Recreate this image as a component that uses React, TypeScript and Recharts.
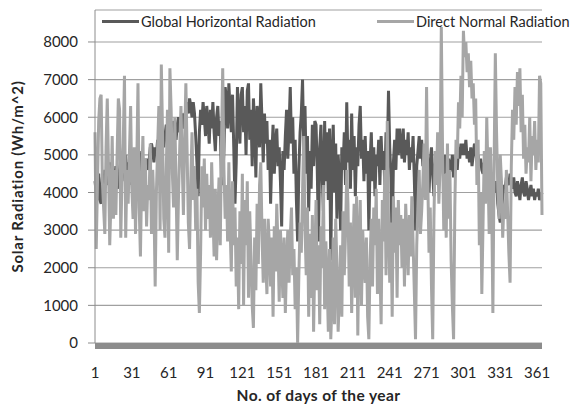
import { LineChart, Line, XAxis, YAxis, CartesianGrid, Label } from 'recharts';

// daily solar radiation, Wh/m^2 (days 1..365)
const globalHorizontal = [
  4300, 4000, 3800, 4500, 3800, 3700, 4400, 4100, 4600, 4200,
  4500, 4200, 4800, 4400, 4000, 4600, 4300, 4700, 4400, 4100,
  4600, 4900, 4300, 4700, 4500, 5000, 4400, 4800, 4200, 4600,
  5000, 4700, 4300, 4900, 4600, 4500, 5100, 4800, 4400, 4700,
  4800, 4700, 4900, 4600, 4800, 5200, 5300, 5100, 4800, 5200,
  5000, 5400, 5100, 4900, 5300, 5600, 5200, 5500, 5800, 5700,
  5600, 5300, 5800, 5500, 5900, 5700, 5400, 5800, 6000, 5600,
  5900, 6100, 5700, 6000, 6200, 6400, 6100, 6500, 6300, 6000,
  6400, 6100, 5500, 4800, 3900, 5600, 6200, 5800, 6400, 6000,
  5500, 6300, 5900, 5300, 6200, 5700, 6400, 5600, 5100, 6000,
  6300, 5500, 5900, 4200, 4400, 5100, 6800, 6500, 5700, 6900,
  6200, 5600, 6600, 5200, 3700, 4800, 6800, 6000, 5300, 6600,
  6800, 5600, 6300, 5000, 6700, 6900, 5400, 6200, 4700, 6500,
  5800, 4400, 6300, 6000, 5200, 6900, 5900, 4800, 6100, 5300,
  5900, 4600, 5400, 3700, 5000, 5800, 4500, 5300, 5700, 4700,
  5200, 4300, 3100, 5100, 4600, 5500, 6200, 4900, 5700, 6800,
  5300, 6000, 4500, 5400, 3800, 2700, 4600, 5600, 6100, 7000,
  5200, 6300, 4500, 5500, 3500, 5100, 4100, 5800, 4700, 5900,
  5800, 4600, 2700, 5200, 5800, 4400, 3500, 5900, 4300, 5600,
  3800, 5700, 2200, 4900, 5800, 4000, 5300, 3300, 5000, 4400,
  3000, 5200, 4600, 5600, 4200, 6400, 4800, 5400, 4100, 6100,
  4600, 5500, 3900, 5200, 4700, 5800, 6300, 4900, 5400, 4300,
  5500, 4500, 5100, 3000, 4800, 5600, 4300, 5200, 3900, 5000,
  4700, 5400, 4200, 5500, 4600, 5100, 4200, 5600, 4900, 6700,
  5200, 4400, 2600, 4800, 5400, 4600, 5700, 5000, 5700, 5300,
  4900, 5700, 4800, 5400, 5000, 5600, 4600, 5200, 4800, 5500,
  4400, 3000, 4700, 5100, 5500, 4900, 5400, 4700, 5200, 4800,
  5000, 4500, 4000, 4800, 5200, 4500, 3900, 4700, 5100, 4400,
  4800, 5200, 4600, 4900, 4300, 5000, 4700, 4500, 4900, 4600,
  4600, 5000, 4400, 4700, 5000, 4600, 5200, 4900, 5300, 5000,
  5300, 5000, 5400, 4900, 5100, 4800, 5200, 4700, 5000, 5300,
  5100, 4800, 5000, 4700, 4900, 4600, 4500, 4800, 4600, 4400,
  4600, 4500, 4300, 4400, 4200, 4100, 4000, 4300, 3700, 3400,
  3200, 3500, 3900, 4200, 4100, 4400, 4300, 4200, 4500, 4300,
  4100, 4400, 4000, 3900, 4300, 4100, 3800, 4200, 4400, 4000,
  3900, 4300, 4100, 3800, 4000, 4200, 3900, 4100, 3800, 4000,
  3900, 4100, 3800, 3900, 4000,
];

const directNormal = [
  5600, 2500, 4200, 5900, 6500, 6600, 4300, 3600, 2900, 5200,
  6500, 4700, 2600, 3800, 5500, 3300, 4600, 3400, 5000, 6500,
  6200, 2800, 4400, 5300, 7100, 2800, 4600, 3700, 5000, 6300,
  4100, 3300, 5200, 2900, 4700, 6900, 3600, 2300, 4400, 5500,
  3500, 4900, 3100, 4200, 3800, 5300, 2900, 4600, 3700, 1500,
  4000, 5200, 6300, 3000, 7400, 5600, 3300, 2800, 4500, 6200,
  2400, 7300, 6200, 4500, 3600, 6000, 4200, 2200, 3900, 5200,
  6300, 4800, 3400, 5400, 6900, 5100, 3200, 2500, 4300, 5600,
  3800, 4700, 3000, 4100, 1600, 800, 2400, 4700, 3600, 4900,
  3000, 4500, 3300, 4200, 2800, 4800, 3500, 2300, 4100, 2200,
  3400, 4400, 2600, 5300, 7300, 4600, 3300, 4200, 2700, 4800,
  3100, 1900, 4300, 2600, 3600, 1500, 2800, 900, 3500, 2100,
  4500, 1000, 3800, 2600, 4300, 1200, 3500, 2300, 1000, 400,
  2800, 1400, 3700, 2100, 4200, 4800, 2900, 1600, 3300, 2200,
  1300, 3300, 2600, 1500, 2800, 700, 3100, 1900, 3700, 2600,
  1100, 3000, 2200, 1200, 2800, 800, 2100, 3000, 1600, 2800,
  3600, 1800, 2500, 900, 2000, 0, 1800, 3200, 2400, 4000,
  5500, 3100, 1800, 3600, 700, 2900, 1200, 3400, 300, 2200,
  3800, 1400, 2600, 500, 3100, 2000, 4200, 900, 2700, 1700,
  300, 2500, 100, 1100, 2800, 500, 3300, 2000, 300, 1300,
  2600, 700, 3500, 1800, 2900, 4600, 3700, 1500, 3200, 800,
  2400, 3700, 1200, 3900, 200, 2700, 3800, 1000, 3000, 2200,
  1600, 2800, 700, 100, 2200, 3300, 1500, 3600, 2600, 4100,
  1300, 3300, 2100, 500, 3800, 2700, 4600, 1800, 5900, 3200,
  1600, 3200, 700, 3900, 2400, 3600, 1200, 3800, 2600, 3400,
  2000, 3300, 1500, 3700, 2800, 1800, 3400, 2300, 3900, 2700,
  1400, 100, 2600, 3700, 4600, 2900, 3500, 4300, 5300, 3800,
  6800, 4300, 2400, 3600, 1500, 100, 3300, 5100, 4200, 5600,
  3700, 4700, 8400, 5200, 3000, 4500, 2800, 5300, 3300, 4600,
  2200, 1000, 100, 3600, 5400, 4900, 6400, 5700, 7100, 6000,
  8300, 7600, 8000, 7200, 7700, 6800, 7500, 6500, 6900, 5800,
  6500, 4200, 5400, 2600, 4000, 1300, 3200, 5100, 3700, 6000,
  4600, 2900, 5200, 3800, 800, 4800, 7700, 5600, 4100, 3300,
  5000, 4300, 2800, 3700, 3300, 4600, 3500, 2400, 1600, 4700,
  6200, 5400, 6800, 5800, 7200, 6300, 7300, 5600, 6600, 4900,
  5800, 4500, 5200, 4800, 6000, 4300, 5500, 5000, 5900, 4600,
  5400, 4800, 7100, 6900, 3400,
];

const dayTicks = [1, 31, 61, 91, 121, 151, 181, 211, 241, 271, 301, 331, 361];
const radiationTicks = [0, 1000, 2000, 3000, 4000, 5000, 6000, 7000, 8000];

const data = globalHorizontal.map((v, i) => ({
  day: i + 1,
  ghr: v,
  dnr: directNormal[i],
}));

const FONT = 'Lato, sans-serif';
const TEXT = '#262626';
const DARK = '#595959';
const LIGHT = '#a6a6a6';

const YTitle = (props: any) => {
  const { viewBox } = props;
  const cx = 17;
  const cy = viewBox.y + viewBox.height / 2;
  return (
    <text
      x={cx}
      y={cy}
      transform={`rotate(-90 ${cx} ${cy})`}
      textAnchor="middle"
      dominantBaseline="central"
      fontFamily={FONT}
      fontSize={15}
      fontWeight="bold"
      letterSpacing={0.8}
      fill={TEXT}
    >
      Solar Radiation  (Wh/m^2)
    </text>
  );
};

const LegendItem = ({ left, color, label }: { left: number; color: string; label: string }) => (
  <div style={{ position: 'absolute', left, top: 12, display: 'flex', alignItems: 'center', height: 18 }}>
    <div style={{ width: 37, height: 3, background: color }} />
    <span style={{ marginLeft: 2, fontFamily: FONT, fontSize: 14.5, color: TEXT, whiteSpace: 'nowrap' }}>{label}</span>
  </div>
);

export default function App() {
  return (
    <div style={{ position: 'absolute', left: 0, top: 0, width: 587, height: 405, background: '#fff' }}>
      <LineChart width={587} height={405} data={data} margin={{ top: 10, right: 45, left: 0, bottom: 0 }}>
        <CartesianGrid vertical={false} stroke="#a0a0a0" strokeWidth={1.2} />
        <XAxis
          dataKey="day"
          type="number"
          domain={[1, 365]}
          ticks={dayTicks}
          interval={0}
          height={62}
          axisLine={{ stroke: '#8c8c8c', strokeWidth: 6, transform: 'translate(0,3)' }}
          tickLine={false}
          tickSize={6}
          tickMargin={18}
          tick={{ fill: TEXT, fontSize: 15, fontFamily: FONT }}
        >
          <Label
            value="No. of days of the year"
            position="insideBottom"
            offset={4}
            style={{ fontFamily: FONT, fontSize: 15.5, fontWeight: 'bold', fill: TEXT, letterSpacing: 0.4 }}
          />
        </XAxis>
        <YAxis
          type="number"
          domain={[0, 8850]}
          ticks={radiationTicks}
          interval={0}
          width={95}
          axisLine={{ stroke: '#8c8c8c' }}
          tickLine={{ stroke: '#8c8c8c' }}
          tickSize={7}
          tickMargin={10}
          tick={{ fill: TEXT, fontSize: 15, fontFamily: FONT }}
        >
          <Label content={YTitle} />
        </YAxis>
        <Line
          type="linear"
          dataKey="ghr"
          name="Global Horizontal Radiation"
          stroke={DARK}
          strokeWidth={3}
          dot={false}
          isAnimationActive={false}
        />
        <Line
          type="linear"
          dataKey="dnr"
          name="Direct Normal Radiation"
          stroke={LIGHT}
          strokeWidth={3}
          dot={false}
          isAnimationActive={false}
        />
      </LineChart>
      <LegendItem left={102} color={DARK} label="Global Horizontal Radiation" />
      <LegendItem left={377} color={LIGHT} label="Direct Normal Radiation" />
    </div>
  );
}
